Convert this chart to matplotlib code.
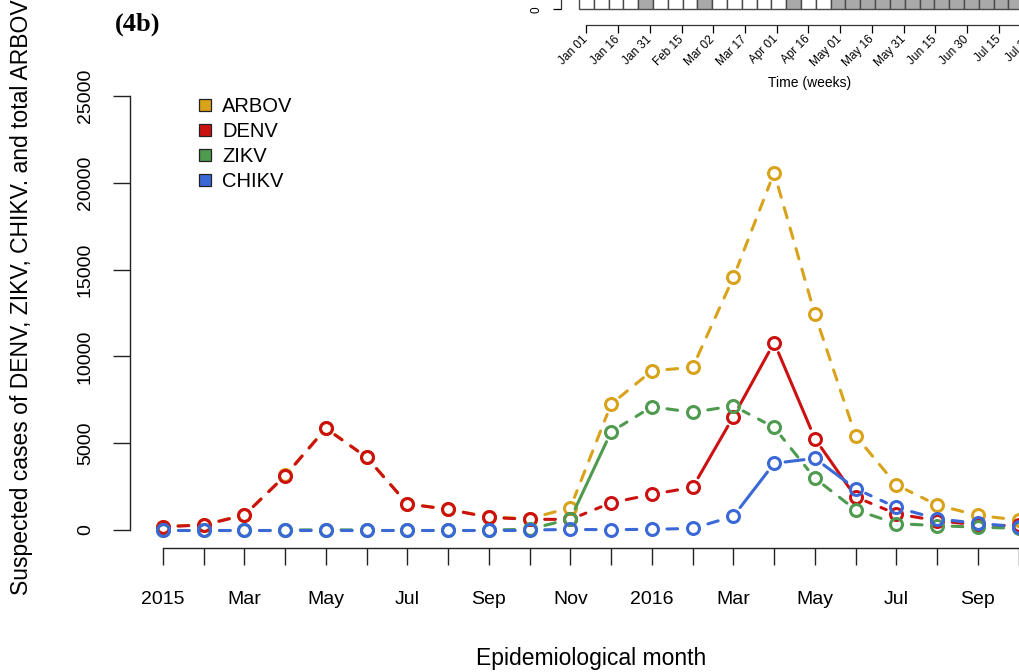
import matplotlib
matplotlib.use('Agg')
import matplotlib.pyplot as plt
from matplotlib.lines import Line2D
import numpy as np

plt.rcParams['font.family'] = ['Liberation Sans', 'DejaVu Sans']

# monthly suspected cases, Jan 2015 - Oct 2016
month_labels = ['2015', 'Feb', 'Mar', 'Apr', 'May', 'Jun', 'Jul', 'Aug', 'Sep', 'Oct', 'Nov', 'Dec',
                '2016', 'Feb', 'Mar', 'Apr', 'May', 'Jun', 'Jul', 'Aug', 'Sep', 'Oct']
arbov = [200, 300, 870, 3140, 5870, 4190, 1510, 1200, 740, 650, 1290, 7250,
         9170, 9370, 14550, 20580, 12430, 5430, 2600, 1440, 840, 575]
denv = [190, 290, 860, 3130, 5850, 4180, 1500, 1190, 730, 615, 610, 1570,
        2050, 2460, 6530, 10800, 5270, 1900, 930, 540, 290, 290]
zikv = [0, 0, 0, 0, 10, 0, 0, 0, 0, 40, 640, 5660,
        7100, 6780, 7150, 5910, 2980, 1160, 370, 250, 160, 100]
chikv = [0, 0, 0, 0, 0, 0, 0, 0, 0, 0, 30, 20,
         40, 90, 790, 3840, 4130, 2380, 1300, 650, 380, 190]

# segments (start index) drawn solid instead of dashed
solid_segments = {'DENV': [13, 14, 15, 16], 'ZIKV': [10], 'CHIKV': [14, 15, 16]}

# inset: weekly alert indicator
week_labels = ['Jan 01', 'Jan 16', 'Jan 31', 'Feb 15', 'Mar 02', 'Mar 17', 'Apr 01', 'Apr 16',
               'May 01', 'May 16', 'May 31', 'Jun 15', 'Jun 30', 'Jul 15', 'Jul 30']
alert_weeks = [0, 0, 0, 0, 1, 0, 0, 0, 1, 0, 0, 0, 0, 0, 1, 0, 0,
               1, 1, 1, 1, 1, 1, 1, 1, 1, 1, 1, 1, 1]

series = [('ARBOV', arbov, '#D9A21B'),
          ('DENV', denv, '#CC1111'),
          ('ZIKV', zikv, '#4E9A4F'),
          ('CHIKV', chikv, '#3A68D6')]

W, H = 1019, 672
fig = plt.figure(figsize=(W / 100, H / 100), dpi=100)


def px_rect(left, top, right, bottom):
    return [left / W, 1 - bottom / H, (right - left) / W, (bottom - top) / H]


# ---- main panel
ax = fig.add_axes(px_rect(130, 60, 1019, 548))
ax.set_xlim(-0.81, 21.01)
ax.set_ylim(-1037, 27074)
for s in ['top', 'right']:
    ax.spines[s].set_visible(False)
ax.spines['left'].set_bounds(0, 25000)
ax.spines['bottom'].set_bounds(0, 21.01)
for s in ['left', 'bottom']:
    ax.spines[s].set_linewidth(1.0)
    ax.spines[s].set_color('#222222')

ax.set_xticks(range(len(month_labels)))
ax.set_xticklabels([m if i % 2 == 0 else '' for i, m in enumerate(month_labels)])
ax.set_yticks(range(0, 25001, 5000))
ax.tick_params(axis='x', length=12, width=1, pad=19, labelsize=14, color='#222222')
ax.tick_params(axis='y', length=12, width=1, pad=14, labelsize=14, color='#222222',
               labelrotation=90)
for lab in ax.get_yticklabels():
    lab.set_verticalalignment('center')

lw = 2.2
lw_px = lw * 100 / 72
gap = 11
on, off = 3.5, 3.5
to_px = ax.transData.transform
to_data = ax.transData.inverted().transform

for k, (name, vals, color) in enumerate(series):
    x = np.arange(len(vals))
    pts = to_px(np.column_stack([x, vals]))
    for i in range(len(vals) - 1):
        d = pts[i + 1] - pts[i]
        L = np.hypot(*d)
        if L <= 2 * gap:
            continue
        u = d / L
        seg = to_data(np.array([pts[i] + u * gap, pts[i + 1] - u * gap]))
        if i in solid_segments.get(name, []):
            ls = '-'
        else:
            # centre the dash pattern on the segment
            lv = (L - 2 * gap) / lw_px
            n = max(1, round((lv + off) / (on + off)))
            extra = lv - (n * on + (n - 1) * off)
            ls = ((-extra / 2) % (on + off), (on, off))
        ax.plot(seg[:, 0], seg[:, 1], color=color, lw=lw, ls=ls,
                dash_capstyle='round', solid_capstyle='round', clip_on=False, zorder=2 + k)
    ax.plot(x, vals, ls='none', marker='o', ms=8.6, mfc='none', mec=color, mew=2.2,
            clip_on=False, zorder=2 + k)

handles = [Line2D([], [], ls='none', marker='s', ms=9, mfc=c, mec='#222222', mew=0.9)
           for _, _, c in series]
ax.legend(handles, [n for n, _, _ in series], loc='upper left', frameon=False,
          bbox_to_anchor=(197 / W, 1 - 97 / H), bbox_transform=fig.transFigure,
          fontsize=14.5, handlelength=0.8, handletextpad=0.45, labelspacing=0.3,
          borderpad=0, borderaxespad=0)

fig.text(115 / W, 1 - 31 / H, '(4b)', family='Liberation Serif', weight='bold',
         fontsize=19, ha='left', va='baseline')
fig.text(22 / W, 1 - 297 / H, 'Suspected cases of DENV, ZIKV, CHIKV. and total ARBOV',
         rotation=90, ha='center', va='center', fontsize=16.5)
fig.text(591 / W, 1 - 665 / H, 'Epidemiological month', ha='center', va='baseline',
         fontsize=16.5)

# ---- inset (partially cut at the top of the figure)
ins = fig.add_axes(px_rect(561, -40, 1060, 25))
ins.set_xlim(-11.96, 223.9)
ins.set_ylim(-0.517, 1.65)
weeks = np.arange(len(alert_weeks)) * 7
ins.bar(weeks, np.ones(len(alert_weeks)), width=7,
        color=['#A9A9A9' if a else 'white' for a in alert_weeks],
        edgecolor='#4A4A4A', linewidth=1.0, align='center')
for s in ['top', 'right']:
    ins.spines[s].set_visible(False)
ins.spines['left'].set_bounds(0, 1.65)
ins.spines['bottom'].set_bounds(0, 223.9)
for s in ['left', 'bottom']:
    ins.spines[s].set_linewidth(0.9)
    ins.spines[s].set_color('#333333')
ins.set_yticks([0])
ins.set_yticklabels(['0'])
ins.set_xticks(np.arange(len(week_labels)) * 15)
ins.set_xticklabels(week_labels)
ins.tick_params(axis='y', length=6, width=0.9, pad=7, labelsize=8.5, labelrotation=90)
ins.tick_params(axis='x', length=6, width=0.9, pad=3, labelsize=8.5)
for lab in ins.get_xticklabels():
    lab.set_rotation(45)
    lab.set_ha('right')
    lab.set_va('center')
    lab.set_rotation_mode('anchor')
for lab in ins.get_yticklabels():
    lab.set_verticalalignment('center')
fig.text(810 / W, 1 - 87 / H, 'Time (weeks)', ha='center', va='baseline', fontsize=10)

fig.savefig('out.png', dpi=100)
